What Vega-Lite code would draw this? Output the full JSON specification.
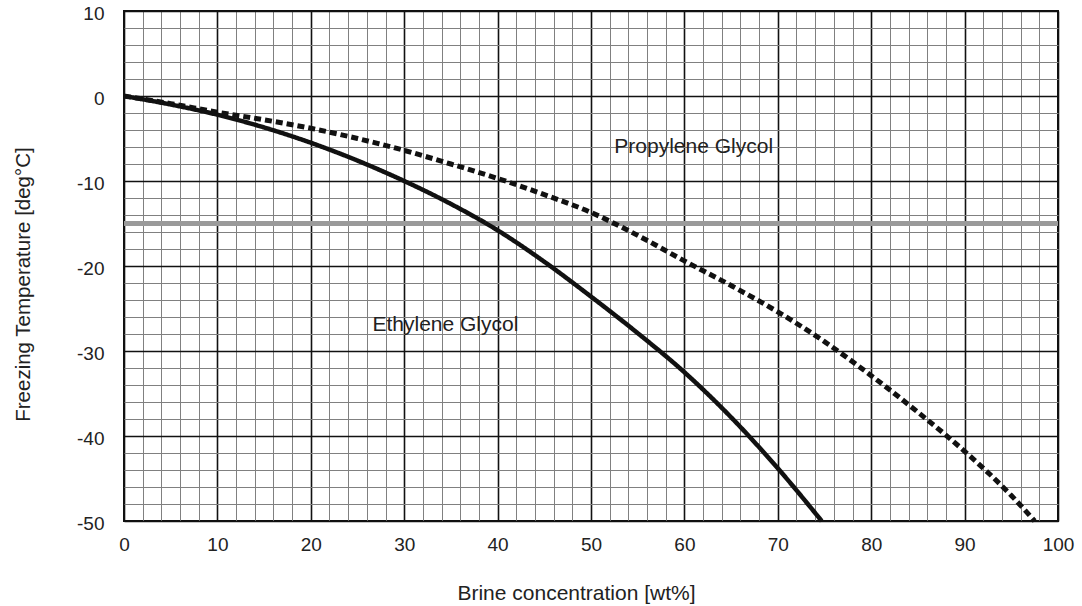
{
  "$schema": "https://vega.github.io/schema/vega-lite/v6.json",
  "width": 934,
  "height": 510,
  "autosize": {"type": "none"},
  "padding": {"left": 124, "top": 11, "right": 24, "bottom": 85},
  "background": "white",
  "config": {
    "view": {"stroke": "#111", "strokeWidth": 2},
    "font": "Liberation Sans"
  },
  "datasets": {
    "curves": [
      {"series": "Ethylene Glycol", "conc": 0, "temp": 0},
      {"series": "Ethylene Glycol", "conc": 5, "temp": -1.0},
      {"series": "Ethylene Glycol", "conc": 10, "temp": -2.2},
      {"series": "Ethylene Glycol", "conc": 15, "temp": -3.7},
      {"series": "Ethylene Glycol", "conc": 20, "temp": -5.5},
      {"series": "Ethylene Glycol", "conc": 25, "temp": -7.6},
      {"series": "Ethylene Glycol", "conc": 30, "temp": -10.0},
      {"series": "Ethylene Glycol", "conc": 35, "temp": -12.7},
      {"series": "Ethylene Glycol", "conc": 40, "temp": -15.8},
      {"series": "Ethylene Glycol", "conc": 45, "temp": -19.5},
      {"series": "Ethylene Glycol", "conc": 50, "temp": -23.6},
      {"series": "Ethylene Glycol", "conc": 55, "temp": -27.9},
      {"series": "Ethylene Glycol", "conc": 60, "temp": -32.5},
      {"series": "Ethylene Glycol", "conc": 65, "temp": -37.8},
      {"series": "Ethylene Glycol", "conc": 70, "temp": -43.8},
      {"series": "Ethylene Glycol", "conc": 74.7, "temp": -50},
      {"series": "Propylene Glycol", "conc": 0, "temp": 0},
      {"series": "Propylene Glycol", "conc": 5, "temp": -0.9},
      {"series": "Propylene Glycol", "conc": 10, "temp": -1.9},
      {"series": "Propylene Glycol", "conc": 15, "temp": -2.8},
      {"series": "Propylene Glycol", "conc": 20, "temp": -3.8},
      {"series": "Propylene Glycol", "conc": 25, "temp": -5.0},
      {"series": "Propylene Glycol", "conc": 30, "temp": -6.4},
      {"series": "Propylene Glycol", "conc": 35, "temp": -8.0},
      {"series": "Propylene Glycol", "conc": 40, "temp": -9.7},
      {"series": "Propylene Glycol", "conc": 45, "temp": -11.6},
      {"series": "Propylene Glycol", "conc": 50, "temp": -13.7},
      {"series": "Propylene Glycol", "conc": 55, "temp": -16.4},
      {"series": "Propylene Glycol", "conc": 60, "temp": -19.4},
      {"series": "Propylene Glycol", "conc": 65, "temp": -22.3},
      {"series": "Propylene Glycol", "conc": 70, "temp": -25.4},
      {"series": "Propylene Glycol", "conc": 75, "temp": -28.9},
      {"series": "Propylene Glycol", "conc": 80, "temp": -32.9},
      {"series": "Propylene Glycol", "conc": 85, "temp": -37.2},
      {"series": "Propylene Glycol", "conc": 90, "temp": -41.8},
      {"series": "Propylene Glycol", "conc": 95, "temp": -47.0},
      {"series": "Propylene Glycol", "conc": 97.5, "temp": -50}
    ],
    "labels": [
      {"label": "Propylene Glycol", "conc": 52.5, "temp": -6.0},
      {"label": "Ethylene Glycol", "conc": 26.6, "temp": -26.9}
    ],
    "limit": [{"temp": -15}]
  },
  "layer": [
    {
      "data": {"name": "limit"},
      "mark": {"type": "rule", "color": "#9a9a9a", "strokeWidth": 5},
      "encoding": {
        "y": {
          "field": "temp",
          "type": "quantitative",
          "scale": {"domain": [-50, 10], "nice": false, "zero": false},
          "axis": {
            "values": [-50,-48,-46,-44,-42,-40,-38,-36,-34,-32,-30,-28,-26,-24,-22,-20,-18,-16,-14,-12,-10,-8,-6,-4,-2,0,2,4,6,8,10],
            "tickCount": 200,
            "labelExpr": "datum.value % 10 === 0 ? '' + datum.value : ''",
            "labelOverlap": false,
            "labelBound": false,
            "ticks": false,
            "domain": false,
            "grid": true,
            "gridColor": {"condition": {"test": "datum.value % 10 === 0", "value": "#111"}, "value": "#808080"},
            "gridWidth": {"condition": {"test": "datum.value % 10 === 0", "value": 1.6}, "value": 1},
            "labelFontSize": 19,
            "labelColor": "#222",
            "labelPadding": 20,
            "labelOffset": 2,
            "title": "Freezing Temperature [deg°C]",
            "titleFontSize": 20.5,
            "titleFontWeight": "normal",
            "titleColor": "#222",
            "titleX": -101,
            "titleY": 273,
            "titleAngle": -90,
            "titleAlign": "center",
            "titleBaseline": "middle"
          }
        }
      }
    },
    {
      "data": {"name": "curves"},
      "mark": {"type": "line", "color": "#111", "interpolate": "monotone"},
      "encoding": {
        "x": {
          "field": "conc",
          "type": "quantitative",
          "scale": {"domain": [0, 100], "nice": false},
          "axis": {
            "values": [0,2,4,6,8,10,12,14,16,18,20,22,24,26,28,30,32,34,36,38,40,42,44,46,48,50,52,54,56,58,60,62,64,66,68,70,72,74,76,78,80,82,84,86,88,90,92,94,96,98,100],
            "tickCount": 200,
            "labelExpr": "datum.value % 10 === 0 ? '' + datum.value : ''",
            "labelOverlap": false,
            "labelBound": false,
            "ticks": false,
            "domain": false,
            "grid": true,
            "gridColor": {"condition": {"test": "datum.value % 10 === 0", "value": "#111"}, "value": "#808080"},
            "gridWidth": {"condition": {"test": "datum.value % 10 === 0", "value": 1.6}, "value": 1},
            "labelFontSize": 19,
            "labelColor": "#222",
            "labelPadding": 14,
            "labelFlush": false,
            "title": "Brine concentration [wt%]",
            "titleFontSize": 21,
            "titleFontWeight": "normal",
            "titleColor": "#222",
            "titleX": 452,
            "titleY": 72,
            "titleAlign": "center",
            "titleBaseline": "middle"
          }
        },
        "y": {"field": "temp", "type": "quantitative"},
        "detail": {"field": "series"},
        "strokeWidth": {
          "field": "series",
          "type": "nominal",
          "scale": {"domain": ["Ethylene Glycol", "Propylene Glycol"], "range": [4.5, 5]},
          "legend": null
        },
        "strokeDash": {
          "field": "series",
          "type": "nominal",
          "scale": {"domain": ["Ethylene Glycol", "Propylene Glycol"], "range": [[1, 0], [7, 4]]},
          "legend": null
        }
      }
    },
    {
      "data": {"name": "labels"},
      "mark": {"type": "text", "align": "left", "baseline": "middle", "fontSize": 21, "color": "#222"},
      "encoding": {
        "x": {"field": "conc", "type": "quantitative"},
        "y": {"field": "temp", "type": "quantitative"},
        "text": {"field": "label"}
      }
    }
  ]
}
